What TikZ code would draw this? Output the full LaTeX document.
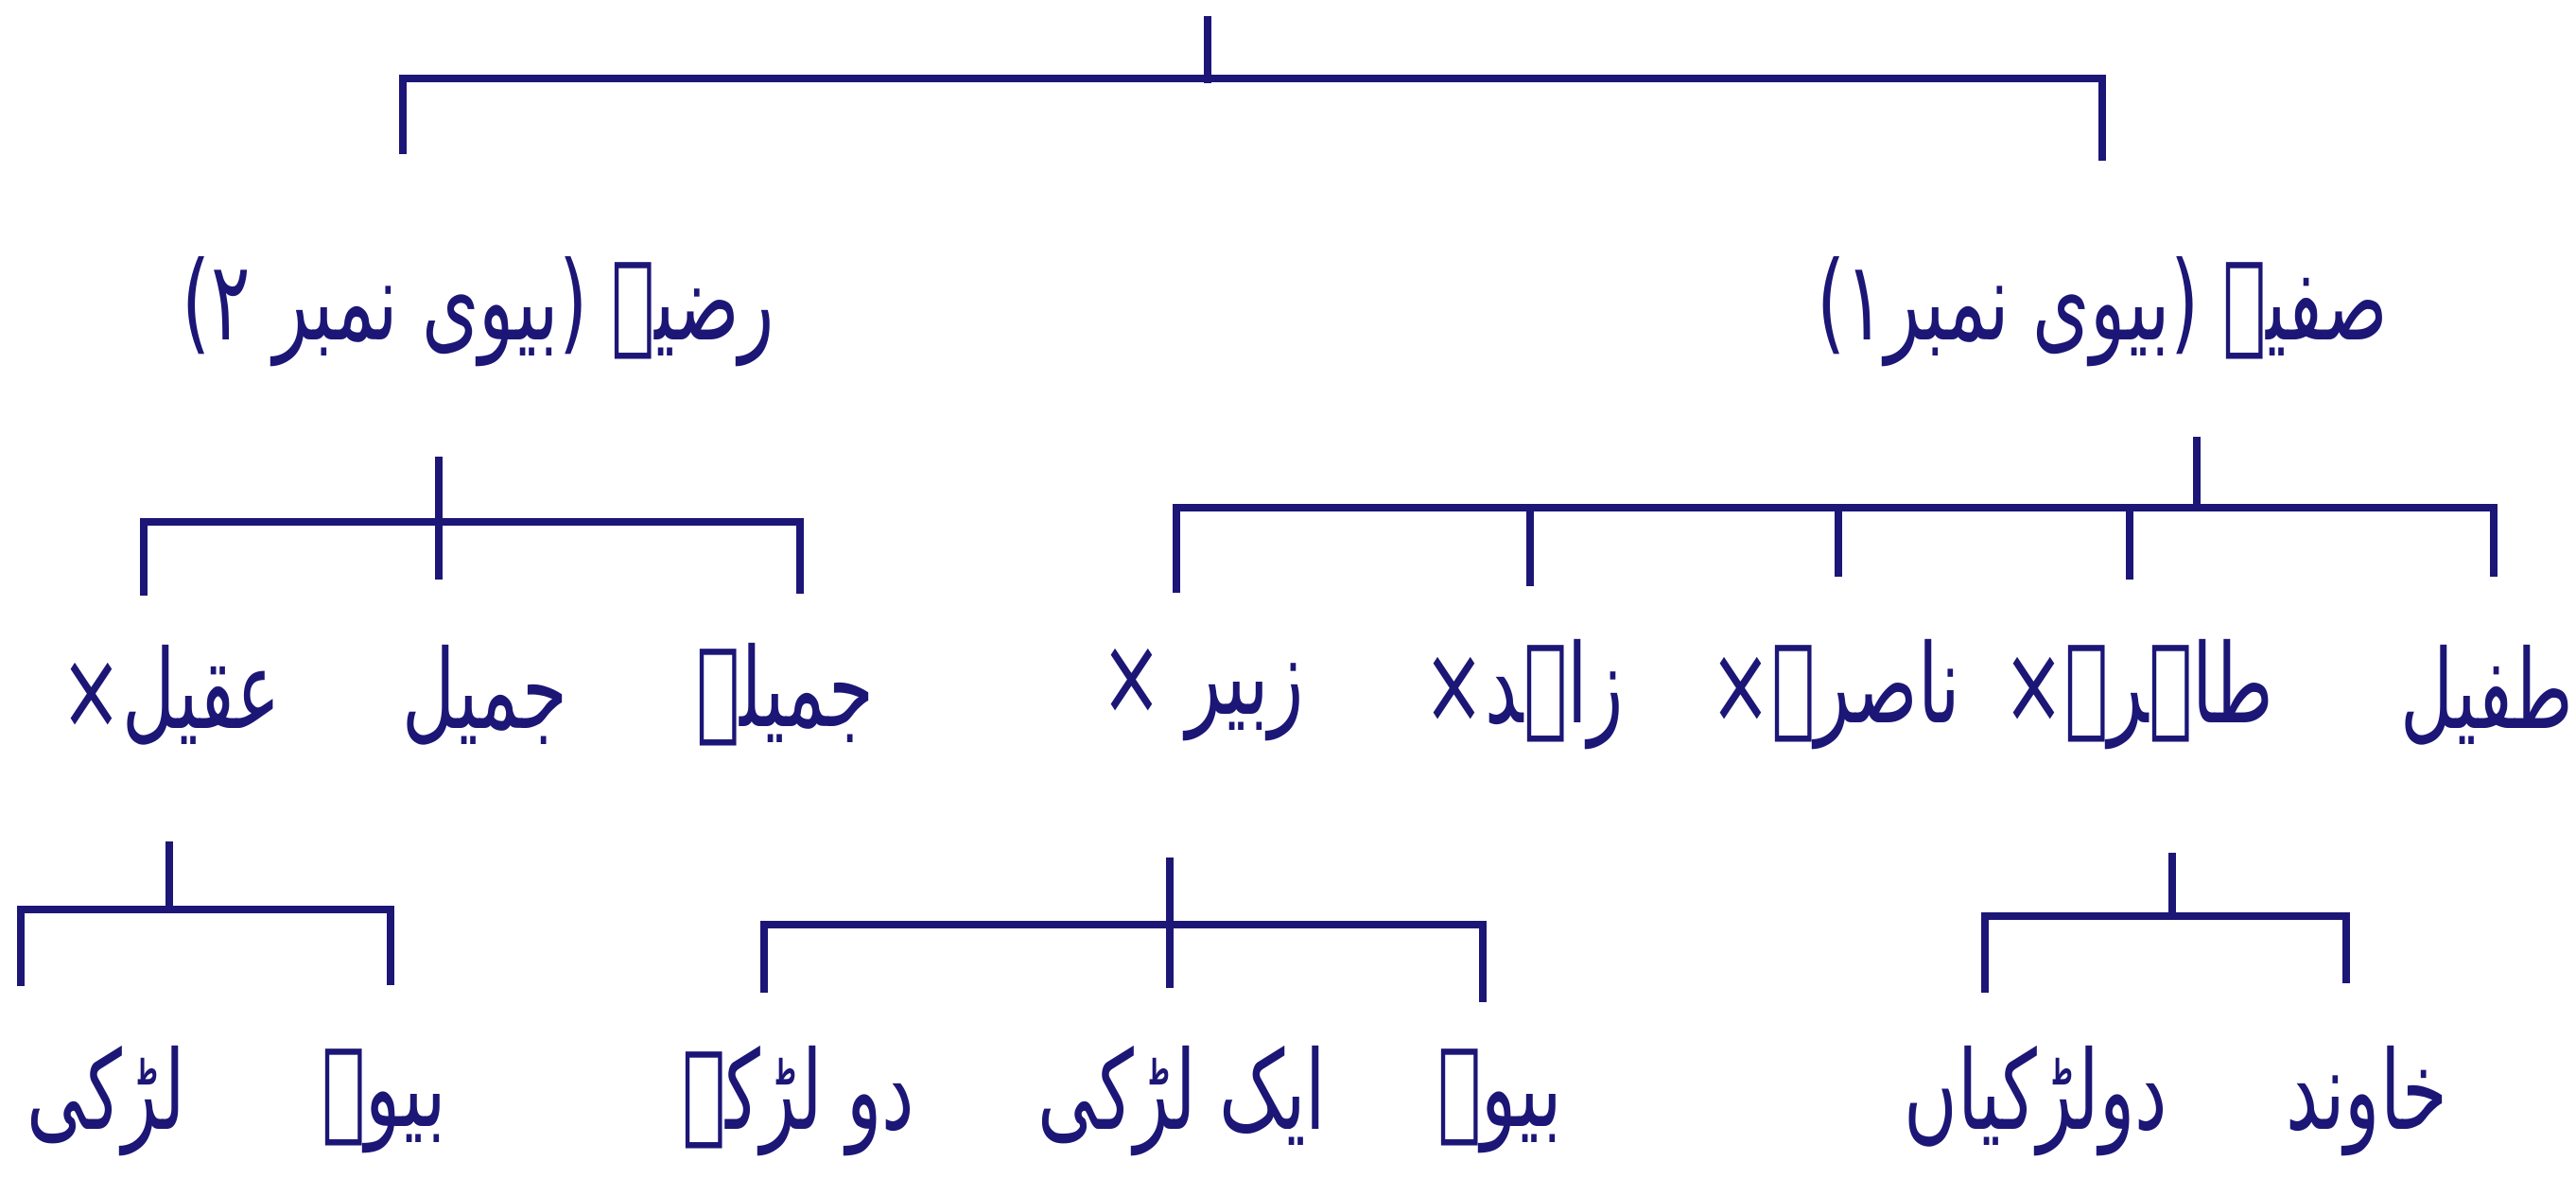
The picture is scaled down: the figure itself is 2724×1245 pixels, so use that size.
\documentclass[tikz,border=0pt]{standalone}
\usepackage{graphicx}
\usepackage{fontspec}
\newfontfamily\urdu[Script=Arabic]{DejaVu Sans}
\TeXXeTstate=1
\definecolor{ink}{RGB}{28,22,118}
\tikzset{
  lbl/.style={text=ink, font=\urdu\fontsize{22}{26}\selectfont, inner sep=0pt, anchor=center},
  tline/.style={draw=ink, line width=2.3pt},
}
% right-to-left label, stretched a little in height like the hand-lettered original
\newcommand{\ur}[1]{\scalebox{1}[1.5]{\beginR #1\endR}}
\begin{document}
\begin{tikzpicture}[x=0.01cm,y=-0.01cm]
\useasboundingbox[fill=white] (0,0) rectangle (2724,1245);

% ---- labels ----
\node[lbl] (razia) at (506,330) {\ur{رضیہ (بیوی نمبر ۲)}};
\node[lbl] (safia) at (2223,330) {\ur{صفیہ (بیوی نمبر۱)}};

\node[lbl] (aqeel) at (181,735) {\ur{عقیل×}};
\node[lbl] (jameel) at (513,735) {\ur{جمیل}};
\node[lbl] (jameela) at (830,735) {\ur{جمیلہ}};

\node[lbl] (zubair) at (1272,735) {\ur{زبیر ×}};
\node[lbl] (zahid) at (1611,735) {\ur{زاہد×}};
\node[lbl] (nasira) at (1941,735) {\ur{ناصرہ×}};
\node[lbl] (tahira) at (2261,735) {\ur{طاہرہ×}};
\node[lbl] (tufail) at (2630,735) {\ur{طفیل}};

\node[lbl] (aqd) at (112,1165) {\ur{لڑکی}};
\node[lbl] (aqw) at (406,1165) {\ur{بیوہ}};

\node[lbl] (zbs) at (844,1165) {\ur{دو لڑکے}};
\node[lbl] (zbd) at (1250,1165) {\ur{ایک لڑکی}};
\node[lbl] (zbw) at (1586,1165) {\ur{بیوہ}};

\node[lbl] (thd) at (2153,1165) {\ur{دولڑکیاں}};
\node[lbl] (thh) at (2503,1165) {\ur{خاوند}};

% ---- top bracket ----
\coordinate (t0) at (1277,17);
\coordinate (t1) at (1277,88);
\coordinate (tl0) at (426,83);
\coordinate (tl1) at (426,163);
\coordinate (tr0) at (2223,83);
\coordinate (tr1) at (2223,170);
\draw[tline] (t0) -- (t1);
\draw[tline] (tl1) -- (tl0) -- (tr0) -- (tr1);

% ---- Razia bracket ----
\coordinate (r0) at (464,483);
\coordinate (r1) at (464,613);
\coordinate (rl0) at (152,552);
\coordinate (rl1) at (152,630);
\coordinate (rr0) at (846,552);
\coordinate (rr1) at (846,628);
\draw[tline] (r0) -- (r1);
\draw[tline] (rl1) -- (rl0) -- (rr0) -- (rr1);

% ---- Safia bracket ----
\coordinate (s0) at (2323,462);
\coordinate (s1) at (2323,540);
\coordinate (sa0) at (1244,537);
\coordinate (sa1) at (1244,627);
\coordinate (sb0) at (1618,537);
\coordinate (sb1) at (1618,620);
\coordinate (sc0) at (1944,537);
\coordinate (sc1) at (1944,610);
\coordinate (sd0) at (2252,537);
\coordinate (sd1) at (2252,613);
\coordinate (se0) at (2637,537);
\coordinate (se1) at (2637,610);
\draw[tline] (s0) -- (s1);
\draw[tline] (sa1) -- (sa0) -- (se0) -- (se1);
\draw[tline] (sb0) -- (sb1);
\draw[tline] (sc0) -- (sc1);
\draw[tline] (sd0) -- (sd1);

% ---- Aqeel bracket ----
\coordinate (a0) at (179,890);
\coordinate (a1) at (179,965);
\coordinate (al0) at (22,962);
\coordinate (al1) at (22,1043);
\coordinate (ar0) at (413,962);
\coordinate (ar1) at (413,1042);
\draw[tline] (a0) -- (a1);
\draw[tline] (al1) -- (al0) -- (ar0) -- (ar1);

% ---- Zubair bracket ----
\coordinate (z0) at (1237,907);
\coordinate (z1) at (1237,1045);
\coordinate (zl0) at (808,978);
\coordinate (zl1) at (808,1050);
\coordinate (zr0) at (1568,978);
\coordinate (zr1) at (1568,1060);
\draw[tline] (z0) -- (z1);
\draw[tline] (zl1) -- (zl0) -- (zr0) -- (zr1);

% ---- Tahira bracket ----
\coordinate (h0) at (2297,902);
\coordinate (h1) at (2297,972);
\coordinate (hl0) at (2099,969);
\coordinate (hl1) at (2099,1050);
\coordinate (hr0) at (2481,969);
\coordinate (hr1) at (2481,1040);
\draw[tline] (h0) -- (h1);
\draw[tline] (hl1) -- (hl0) -- (hr0) -- (hr1);
\end{tikzpicture}
\end{document}
